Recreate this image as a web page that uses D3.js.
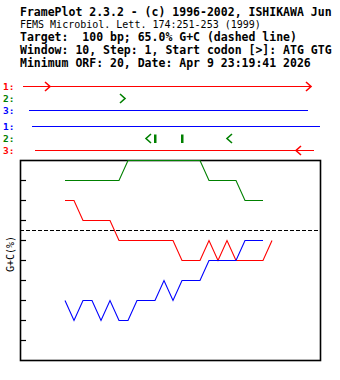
<!DOCTYPE html>
<html>
<head>
<meta charset="utf-8">
<script src="https://cdn.jsdelivr.net/npm/d3@7"></script>
<style>
  html, body { margin: 0; padding: 0; background: #fff; }
  svg { display: block; }
</style>
</head>
<body>
<svg id="chart" width="340" height="380"></svg>
<script>
// Header text lines
const headerLines = [
  "FramePlot 2.3.2 - (c) 1996-2002, ISHIKAWA Jun",
  "FEMS Microbiol. Lett. 174:251-253 (1999)",
  "Target:  100 bp; 65.0% G+C (dashed line)",
  "Window: 10, Step: 1, Start codon [>]: ATG GTG",
  "Minimum ORF: 20, Date: Apr 9 23:19:41 2026"
];

// Sequence settings
const seqLength = 100;
const targetGC = 65.0;
const yTicks = [10, 20, 30, 40, 50, 60, 70, 80, 90];

// ORF rows: forward frames 1-3 then reverse frames 1-3
const rowLabels = ["1:", "2:", "3:", "1:", "2:", "3:"];
const rowColors = ["#ff0000", "#008000", "#0000ff", "#0000ff", "#008000", "#ff0000"];
const rowStrand = ["+", "+", "+", "-", "-", "-"];
// ORF spans [start bp, end bp] per row
const orfSpans = [[[1, 97]], [], [[3, 96]], [[4, 100]], [], [[5, 98]]];
// start codon positions per row
const startCodons = [[10, 97], [35], [], [], [42, 69], [92]];
// stop codon positions per row
const stopCodons = [[], [], [], [], [45, 54], []];

// GC3 window positions (bp) and values (%) for the three frames
const posFrame1 = [15, 18, 21, 24, 27, 30, 33, 36, 39, 42, 45, 48, 51, 54, 57, 60, 63, 66, 69, 72, 75, 78, 81, 84];
const gcFrame1  = [80, 80, 70, 70, 70, 70, 60, 60, 60, 60, 60, 60, 60, 50, 50, 50, 60, 50, 60, 50, 50, 50, 50, 60];
const posFrame2 = [15, 18, 21, 24, 27, 30, 33, 36, 39, 42, 45, 48, 51, 54, 57, 60, 63, 66, 69, 72, 75, 78, 81];
const gcFrame2  = [90, 90, 90, 90, 90, 90, 90, 100, 100, 100, 100, 100, 100, 100, 100, 100, 90, 90, 90, 90, 80, 80, 80];
const posFrame3 = [15, 18, 21, 24, 27, 30, 33, 36, 39, 42, 45, 48, 51, 54, 57, 60, 63, 66, 69, 72, 75, 78, 81];
const gcFrame3  = [30, 20, 30, 30, 20, 30, 20, 20, 30, 30, 30, 40, 30, 40, 40, 40, 50, 50, 50, 50, 60, 60, 60];

const frameColors = ["#ff0000", "#008000", "#0000ff"];

const svg = d3.select("#chart");
const mono = "'DejaVu Sans Mono', 'Liberation Mono', monospace";

// Header
const headerBaselines = [16, 28, 41, 54, 67];
svg.append("g").selectAll("text")
  .data(headerLines)
  .join("text")
  .attr("x", 20)
  .attr("y", (d, i) => headerBaselines[i])
  .attr("font-family", mono)
  .attr("font-size", (d, i) => i === 1 ? 10 : 11.5)
  .attr("font-weight", (d, i) => i === 1 ? "normal" : "bold")
  .attr("fill", "#000")
  .attr("xml:space", "preserve")
  .style("white-space", "pre")
  .text(d => d);

// Scales
const x = d3.scaleLinear().domain([0, seqLength]).range([20, 320]);
const y = d3.scaleLinear().domain([0, 100]).range([360, 160]);
const rowYs = [86.5, 98.5, 110.5, 126.5, 138.5, 150.5];
const labelBase = [90, 102, 114, 130, 142, 154];

// ORF map
const orf = svg.append("g");
rowLabels.forEach((lab, i) => {
  orf.append("text")
    .attr("x", 3)
    .attr("y", labelBase[i])
    .attr("font-family", mono)
    .attr("font-size", 9.5)
    .attr("font-weight", "bold")
    .attr("fill", rowColors[i])
    .text(lab);

  orf.selectAll(null)
    .data(orfSpans[i])
    .join("line")
    .attr("x1", d => x(d[0]))
    .attr("x2", d => x(d[1]))
    .attr("y1", rowYs[i])
    .attr("y2", rowYs[i])
    .attr("stroke", rowColors[i])
    .attr("stroke-width", 1)
    .attr("shape-rendering", "crispEdges");

  const dir = rowStrand[i] === "+" ? -1 : 1;
  orf.selectAll(null)
    .data(startCodons[i])
    .join("path")
    .attr("d", d => {
      const tx = x(d), cy = rowYs[i];
      return d3.line()([[tx + dir * 5, cy - 4.5], [tx, cy], [tx + dir * 5, cy + 4.5]]);
    })
    .attr("fill", "none")
    .attr("stroke", rowColors[i])
    .attr("stroke-width", 1.6);

  orf.selectAll(null)
    .data(stopCodons[i])
    .join("rect")
    .attr("x", d => x(d) - 1)
    .attr("y", rowYs[i] - 4)
    .attr("width", 2.5)
    .attr("height", 8.5)
    .attr("fill", rowColors[i]);
});

// Plot frame and ticks
const plot = svg.append("g");
plot.append("rect")
  .attr("x", x(0) + 0.5)
  .attr("y", y(100) + 0.5)
  .attr("width", x(seqLength) - x(0))
  .attr("height", y(0) - y(100))
  .attr("fill", "none")
  .attr("stroke", "#000")
  .attr("stroke-width", 1.6);

plot.selectAll("line.tick")
  .data(yTicks)
  .join("line")
  .attr("class", "tick")
  .attr("x1", x(0))
  .attr("x2", x(0) + 6)
  .attr("y1", d => y(d) + 0.5)
  .attr("y2", d => y(d) + 0.5)
  .attr("stroke", "#000")
  .attr("stroke-width", 1.2);

// Target G+C line
plot.append("line")
  .attr("x1", x(0))
  .attr("x2", x(seqLength))
  .attr("y1", Math.round(y(targetGC)) + 0.5)
  .attr("y2", Math.round(y(targetGC)) + 0.5)
  .attr("stroke", "#000")
  .attr("stroke-dasharray", "4,2")
  .attr("shape-rendering", "crispEdges");

// Y axis title
plot.append("text")
  .attr("transform", `translate(13.5, ${y(53)}) rotate(-90)`)
  .attr("text-anchor", "middle")
  .attr("font-family", mono)
  .attr("font-size", 10)
  .attr("fill", "#000")
  .text("G+C(%)");

// GC3 curves for each frame
const gcLine = d3.line().x(d => x(d[0])).y(d => y(d[1]) + 0.5);
const series = [
  d3.zip(posFrame1, gcFrame1),
  d3.zip(posFrame2, gcFrame2),
  d3.zip(posFrame3, gcFrame3)
];
plot.selectAll("path.gc")
  .data(series)
  .join("path")
  .attr("class", "gc")
  .attr("d", gcLine)
  .attr("fill", "none")
  .attr("stroke", (d, i) => frameColors[i])
  .attr("stroke-width", 1.1);
</script>
</body>
</html>
